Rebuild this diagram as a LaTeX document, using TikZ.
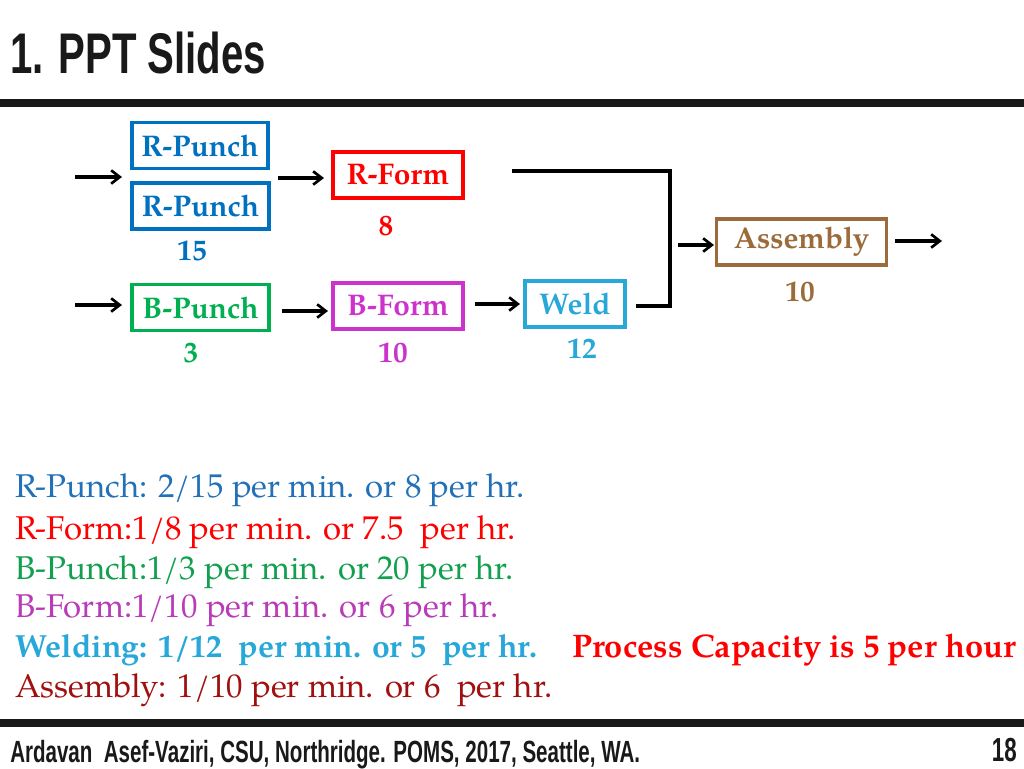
\documentclass[tikz,border=0pt]{standalone}
\usepackage{fontspec}
\setmainfont{TeX Gyre Pagella}
\newfontfamily\titlefont{Liberation Sans}[FakeStretch=0.70]
\newfontfamily\footfont{Liberation Sans}[FakeStretch=0.67]
\usetikzlibrary{arrows.meta,calc}
\definecolor{cblue}{HTML}{0070C0}
\definecolor{cred}{HTML}{FF0000}
\definecolor{cgreen}{HTML}{00B050}
\definecolor{cmag}{HTML}{CC33CC}
\definecolor{ccyan}{HTML}{27A8D8}
\definecolor{cbrown}{HTML}{9C6B3A}
\definecolor{cdred}{HTML}{A01010}
\definecolor{rpblue}{HTML}{2271B8}
\definecolor{bfmag}{HTML}{B83CB8}
\definecolor{bpgreen}{HTML}{12A050}
\begin{document}
\begin{tikzpicture}[x=0.75pt,y=-0.75pt,
  box/.style={draw=#1,line width=2.4pt,text=#1,minimum height=34.5pt,inner sep=0pt,
    font=\fontsize{22.4}{26}\selectfont\bfseries},
  num/.style={text=#1,font=\fontsize{22}{26}\selectfont\bfseries,inner sep=0pt},
  flow/.style={line width=2.6pt,-{Straight Barb[length=6.5pt,width=10pt,line width=2pt]}},
  rate/.style={anchor=base west,inner sep=0pt,text=#1,font=\fontsize{24.7}{28}\selectfont},
  rule/.style={line width=6pt,black!90}]
\useasboundingbox (0,0) rectangle (1024,768);
% title and rules
\node[anchor=base west,inner sep=0pt,font=\titlefont\fontsize{43}{46}\selectfont\bfseries,text=black!90] (title) at (10,73) {1. PPT Slides};
\draw[rule] (0,103) -- (1024,103);
\draw[rule] (0,723) -- (1024,723);
\node[anchor=base west,inner sep=0pt,font=\footfont\fontsize{23}{26}\selectfont\bfseries,text=black!90] (foot) at (10,762) {Ardavan\ \ Asef-Vaziri, CSU, Northridge. POMS, 2017, Seattle, WA.};
\node[anchor=base east,inner sep=0pt,font=\footfont\fontsize{25}{28}\selectfont\bfseries,text=black!90] (page) at (1017,761) {18};
% boxes
\node[box=cblue,minimum width=102pt] (rp1) at (200,145.5) {R-Punch};
\node[box=cblue,minimum width=102.75pt] (rp2) at (200.5,206) {R-Punch};
\node[box=cred,minimum width=97.5pt] (rf) at (398,175) {R-Form};
\node[box=cgreen,minimum width=102.75pt] (bp) at (200.5,307.5) {B-Punch};
\node[box=cmag,minimum width=97.5pt] (bf) at (398,306) {B-Form};
\node[box=ccyan,minimum width=75pt] (wd) at (575,304) {Weld};
\node[box=cbrown,minimum width=128pt] (as) at (801.5,242) {Assembly};
% numbers
\node[num=cblue] (n15) at (192,251) {15};
\node[num=cred] (n8) at (386,226) {8};
\node[num=cgreen] (n3) at (191,353) {3};
\node[num=cmag] (n10b) at (393,353) {10};
\node[num=ccyan] (n12) at (582,349) {12};
\node[num=cbrown] (n10a) at (800,292) {10};
% arrows
\coordinate (a1s) at (75,177); \coordinate (a1e) at (122,177);
\coordinate (a2s) at (278,178); \coordinate (a2e) at (324,178);
\coordinate (a3s) at (75,305); \coordinate (a3e) at (122,305);
\coordinate (a4s) at (282,311); \coordinate (a4e) at (328,311);
\coordinate (a5s) at (475,304); \coordinate (a5e) at (520,304);
\coordinate (a6s) at (678,245); \coordinate (a6e) at (714,245);
\coordinate (a7s) at (895,241); \coordinate (a7e) at (942,241);
\coordinate (m1) at (512,171); \coordinate (m2) at (636,306);
\draw[flow] (a1s) -- (a1e);
\draw[flow] (a2s) -- (a2e);
\draw[flow] (a3s) -- (a3e);
\draw[flow] (a4s) -- (a4e);
\draw[flow] (a5s) -- (a5e);
\draw[flow] (a6s) -- (a6e);
\draw[flow] (a7s) -- (a7e);
\draw[line width=3pt] (m1) -- (670,171) -- (670,306) -- (m2);
% rates
\node[rate=rpblue] (r1) at (15,497) {R-Punch: 2/15 per min. or 8 per hr.};
\node[rate=cred] (r2) at (15,539) {R-Form:1/8 per min. or 7.5\ \ per hr.};
\node[rate=bpgreen] (r3) at (15,579) {B-Punch:1/3 per min. or 20 per hr.};
\node[rate=bfmag] (r4) at (15,617) {B-Form:1/10 per min. or 6 per hr.};
\node[rate=ccyan,font=\fontsize{24}{28}\selectfont\bfseries] (r5) at (15,657) {Welding: 1/12\ \ per min. or 5\ \ per hr.};
\node[rate=cdred] (r6) at (15,697) {Assembly: 1/10 per min. or 6\ \ per hr.};
\node[rate=cred,font=\fontsize{24.5}{28}\selectfont\bfseries] (cap) at (572,657) {Process Capacity is 5 per hour};
\end{tikzpicture}
\end{document}
